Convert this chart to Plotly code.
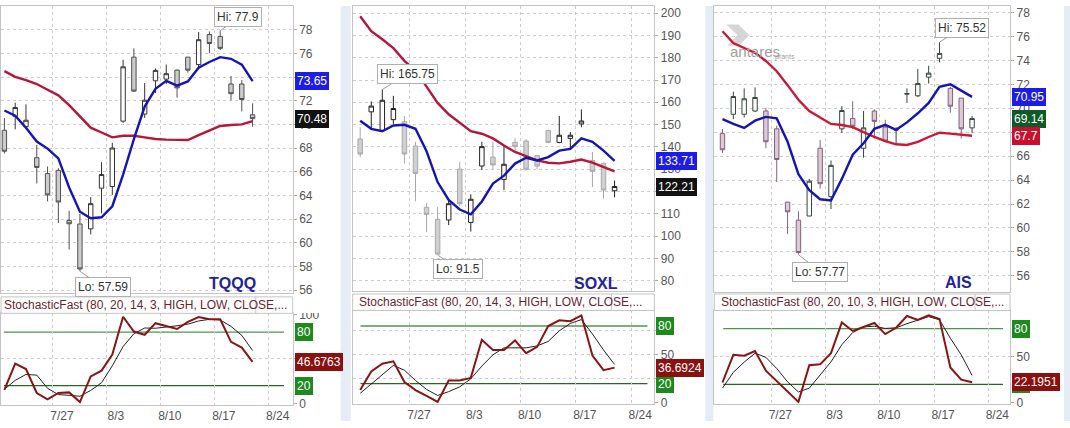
import plotly.graph_objects as go
import pandas as pd

# ---------------- data ----------------
dates = [d.strftime("%Y-%m-%d") for d in pd.bdate_range("2020-07-20", "2020-08-20")]
week_ticks = ["2020-07-27", "2020-08-03", "2020-08-10", "2020-08-17", "2020-08-24"]
week_labels = ["7/27", "8/3", "8/10", "8/17", "8/24"]

tqqq_open = [69.5, 70.68, 69.8, 67.18, 65.84, 66.11, 61.88, 61.58, 61.17, 64.61, 64.75, 70.27,
             75.68, 70.87, 73.68, 73.82, 74.58, 75.68, 75.05, 77.59, 77.43, 73.41, 73.41, 70.81]
tqqq_high = [70.54, 71.83, 71.69, 68.27, 66.44, 66.3, 62.7, 62.43, 63.85, 66.8, 68.44, 75.46,
             76.42, 73.49, 74.72, 75.05, 74.64, 75.68, 77.8, 77.85, 77.9, 74.09, 73.74, 71.77]
tqqq_low = [67.54, 69.58, 69.72, 65.0, 63.49, 61.66, 59.42, 57.59, 60.7, 62.48, 64.04, 70.13,
            72.73, 70.54, 72.64, 73.41, 72.26, 74.37, 74.64, 76.0, 76.28, 72.04, 71.09, 69.8]
tqqq_close = [67.73, 71.42, 70.35, 66.36, 64.04, 63.44, 61.6, 57.78, 63.3, 65.76, 68.0, 74.86,
              72.81, 72.04, 74.56, 74.28, 73.08, 74.58, 77.15, 76.83, 76.42, 72.59, 72.1, 70.48]
tqqq_ma_fast = [71.17, 70.73, 69.72, 68.55, 67.95, 67.13, 64.67, 62.62, 62.07, 62.15, 63.08, 65.76,
                68.76, 71.5, 73.0, 73.68, 73.27, 73.63, 74.78, 75.27, 75.68, 75.54, 75.05, 73.65]
tqqq_ma_slow = [74.5, 74.01, 73.74, 73.41, 72.92, 72.45, 71.63, 70.68, 69.72, 69.31, 68.9, 69.04,
                69.04, 68.9, 68.76, 68.71, 68.68, 68.68, 69.09, 69.5, 69.86, 69.94, 70.0, 70.27]
tqqq_stoch_k = [15.2, 44.8, 38.7, 11.8, 4.6, 11.8, 12.5, 1.7, 30.4, 36.9, 54.9, 97.3,
                80.7, 77.1, 90.1, 87.2, 83.6, 91.5, 96.9, 94.4, 94.4, 69.2, 62.8, 46.6763]
tqqq_stoch_d = [16, 26, 32.6, 31.9, 17.1, 10, 9.2, 8.2, 14.7, 23.3, 42.3, 63.9,
                78.3, 84.7, 84.4, 85.4, 87.2, 89.0, 92.6, 94.4, 93.7, 86.5, 76.4, 59.5]

soxl_open = [143.5, 155.7, 147.4, 152.2, 151.3, 140.4, 112.9, 107.5, 107.2, 130.0, 106.1, 131.4,
             135.4, 125.4, 142.0, 142.6, 136.1, 147.4, 142.0, 143.8, 150.3, 133.9, 132.6, 120.3]
soxl_high = [148.8, 160.4, 165.75, 162.9, 153.9, 142.3, 114.8, 113.0, 116.5, 133.3, 118.7, 142.3,
             142.3, 140.9, 143.8, 143.5, 136.2, 147.7, 153.9, 146.7, 156.8, 137.7, 132.9, 124.9]
soxl_low = [135.4, 148.1, 147.0, 150.3, 132.5, 115.5, 101.7, 91.5, 104.9, 113.3, 102.0, 129.6,
            130.0, 120.6, 137.2, 129.3, 130.0, 141.6, 141.6, 139.4, 148.8, 122.0, 116.7, 117.4]
soxl_close = [136.8, 158.3, 160.9, 157.2, 136.8, 128.1, 109.7, 91.9, 114.5, 114.5, 116.5, 140.1,
              131.9, 132.2, 140.1, 130.0, 131.4, 142.0, 145.2, 145.2, 151.6, 129.0, 120.6, 122.21]
soxl_ma_fast = [151.7, 148.1, 147.0, 149.6, 149.9, 148.1, 138.0, 124.2, 116.2, 111.9, 109.7, 115.5,
                123.5, 127.1, 132.5, 135.1, 133.9, 135.4, 138.3, 139.1, 143.8, 142.3, 138.3, 133.71]
soxl_ma_slow = [198.6, 191.9, 188.3, 184.3, 178.6, 174.2, 167.0, 159.7, 154.6, 151.0, 147.0, 145.9,
                143.8, 140.6, 137.7, 135.8, 133.9, 132.9, 132.6, 133.3, 134.3, 132.9, 131.0, 129.0]
soxl_stoch_k = [13.3, 32.7, 40.7, 43.3, 21.7, 13.3, 7.3, 1.0, 23.3, 23.3, 26.0, 65.7,
                55.0, 55.0, 65.0, 51.7, 58.3, 80.0, 86.0, 85.0, 91.0, 49.3, 34.0, 36.6924]
soxl_stoch_d = [10, 20, 30, 39, 34, 23.3, 14, 7.7, 11.7, 16.7, 25, 38.3,
                50, 57.3, 57.3, 57.3, 59.3, 64, 75, 82.7, 86.7, 71.7, 55, 40]

ais_open = [67.88, 69.5, 69.5, 69.77, 69.77, 68.28, 62.16, 60.65, 61.0, 66.66, 62.62, 68.28,
            69.15, 66.66, 69.77, 68.42, 68.18, 71.18, 71.04, 72.6, 74.17, 71.66, 70.85, 68.36]
ais_high = [68.28, 71.39, 71.66, 71.74, 70.04, 68.55, 62.16, 61.4, 64.1, 67.34, 65.64, 70.18,
            70.58, 69.77, 69.9, 69.04, 68.42, 71.66, 73.28, 73.55, 75.52, 71.8, 70.85, 69.36]
ais_low = [66.26, 69.09, 69.23, 69.69, 66.66, 63.83, 59.51, 57.77, 61.0, 63.29, 61.58, 67.93,
           68.28, 65.86, 67.47, 67.2, 67.07, 70.44, 70.93, 72.06, 73.82, 69.63, 67.47, 67.93]
ais_close = [66.53, 70.98, 70.79, 70.9, 67.2, 65.72, 61.35, 57.95, 63.91, 63.7, 65.23, 69.81,
             68.5, 68.36, 68.9, 67.26, 68.22, 71.22, 72.06, 72.93, 74.58, 70.17, 68.28, 69.14]
ais_ma_fast = [69.09, 68.69, 68.36, 68.96, 69.28, 69.15, 67.2, 64.5, 63.16, 62.4, 62.29, 64.1,
               66.12, 67.07, 68.28, 68.61, 68.2, 68.82, 69.58, 70.44, 71.79, 72.0, 71.47, 70.95]
ais_ma_slow = [76.43, 75.44, 75.03, 74.63, 73.95, 73.09, 71.93, 70.71, 69.77, 69.23, 68.69, 68.6,
               68.42, 68.01, 67.6, 67.26, 66.99, 66.93, 67.2, 67.6, 67.96, 67.88, 67.8, 67.7]
ais_stoch_k = [22, 51.9, 50.9, 56, 34.7, 23.4, 13.1, 1.1, 40.6, 41.6, 53.6, 86.8,
               77.6, 82, 86.2, 74.2, 81, 93.7, 89.6, 94.4, 90.6, 38.2, 25.1, 22.1951]
ais_stoch_d = [15.9, 33, 44, 53.6, 49.1, 37.1, 22.7, 11.8, 15.9, 29.6, 44.3, 62.8,
               75.9, 82, 82.7, 80.3, 81, 85.5, 89.6, 93, 89.6, 69.7, 51.9, 29.6]

tickers = ["TQQQ", "SOXL", "AIS"]
stoch_titles = ["StochasticFast (80, 20, 14, 3, HIGH, LOW, CLOSE,...",
                "StochasticFast (80, 20, 14, 3, HIGH, LOW, CLOSE,...",
                "StochasticFast (80, 20, 10, 3, HIGH, LOW, CLOSE,..."]
stoch_levels = [80, 20]

# ---------------- layout helpers ----------------
W, H = 1070, 428
FONT = "Liberation Sans, Arial, sans-serif"
def fx(p): return p / W
def fy(p): return 1 - p / H

calendar = [d.strftime("%Y-%m-%d") for d in pd.bdate_range(dates[0], week_ticks[-1])]
tick_pos = [calendar.index(d) - 0.5 for d in week_ticks]
xs = list(range(len(dates)))

series = [
    dict(o=tqqq_open, h=tqqq_high, l=tqqq_low, c=tqqq_close, fast=tqqq_ma_fast, slow=tqqq_ma_slow,
         k=tqqq_stoch_k, d=tqqq_stoch_d),
    dict(o=soxl_open, h=soxl_high, l=soxl_low, c=soxl_close, fast=soxl_ma_fast, slow=soxl_ma_slow,
         k=soxl_stoch_k, d=soxl_stoch_d),
    dict(o=ais_open, h=ais_high, l=ais_low, c=ais_close, fast=ais_ma_fast, slow=ais_ma_slow,
         k=ais_stoch_k, d=ais_stoch_d),
]

geo = [
    dict(x0=0, x1=292, main=(0, 296), hdr=(300, 317), stoch=(317, 411), div=255, txt=1,
         xr=[-0.315, 26.72], yr=[55.75, 80.0], sr=[-1.1, 101.1],
         yt=list(range(56, 80, 2)), st=[0, 50, 100], lab=(232, 286),
         hi=(18, -14), lo=(23, 16), lines=(0.01, 0.97),
         up=dict(line="#333333", fill="#ffffff"), dn=dict(line="#505050", fill="#cccccc"),
         slow_col="#b5163a", badges_main=[("fast", "#1c1ce6"), ("c", "#111111")]),
    dict(x0=352, x1=654, main=(0, 294), hdr=(297, 314), stoch=(314, 410), div=611, txt=356,
         xr=[-0.68, 26.6], yr=[75.3, 203.2], sr=[-0.7, 96.2],
         yt=list(range(80, 201, 10)), st=[0, 25, 50, 75], lab=(596, 286),
         hi=(25, -15), lo=(20, 14), lines=(0.026, 0.977),
         up=dict(line="#222222", fill="#ffffff"), dn=dict(line="#a8a8a8", fill="#d0d0d0"),
         slow_col="#b5163a", badges_main=[("fast", "#1c1ce6"), ("c", "#111111")]),
    dict(x0=714, x1=1010, main=(0, 295), hdr=(297, 314), stoch=(314, 410), div=975, txt=719,
         xr=[-0.75, 26.5], yr=[54.65, 78.54], sr=[-0.7, 99.7],
         yt=list(range(56, 80, 2)), st=[0, 50, 100], lab=(958, 285),
         hi=(22, -14), lo=(22, 17), lines=(0.03, 0.976),
         up=dict(line="#35473a", fill="#ffffff"), dn=dict(line="#86607a", fill="#dccbd7"),
         slow_col="#cc1838", badges_main=[("fast", "#1c1ce6"), ("c", "#0d5a28"), ("slow", "#c8102e")]),
]

fig = go.Figure()
layout = dict(width=W, height=H, margin=dict(l=0, r=0, t=0, b=0),
              paper_bgcolor="white", plot_bgcolor="rgba(0,0,0,0)", showlegend=False,
              boxgap=0.42, font=dict(family=FONT, size=12, color="#555555"),
              hovermode=False)
shapes, annots = [], []

GRID = "#cccccc"
BORDER = "#c4c4c4"

def ax_suffix(i):
    return "" if i == 1 else str(i)

for p, (s, g) in enumerate(zip(series, geo)):
    mi, si = ax_suffix(2 * p + 1), ax_suffix(2 * p + 2)
    mx, my = f"x{mi}", f"y{mi}"
    sx, sy = f"x{si}", f"y{si}"
    dom_x = [fx(g["x0"]), fx(g["x1"])]

    # main price panel
    fig.add_trace(go.Candlestick(
        x=xs, open=s["o"], high=s["h"], low=s["l"], close=s["c"], xaxis=mx, yaxis=my,
        whiskerwidth=0,
        increasing=dict(line=dict(color=g["up"]["line"], width=1), fillcolor=g["up"]["fill"]),
        decreasing=dict(line=dict(color=g["dn"]["line"], width=1), fillcolor=g["dn"]["fill"]),
    ))
    fig.add_trace(go.Scatter(x=xs, y=s["slow"], mode="lines", xaxis=mx, yaxis=my,
                             line=dict(color=g["slow_col"], width=2.4)))
    fig.add_trace(go.Scatter(x=xs, y=s["fast"], mode="lines", xaxis=mx, yaxis=my,
                             line=dict(color="#1515b4", width=2.4)))

    # stochastic panel
    fig.add_trace(go.Scatter(x=xs, y=s["d"], mode="lines", xaxis=sx, yaxis=sy,
                             line=dict(color="#222222", width=1)))
    fig.add_trace(go.Scatter(x=xs, y=s["k"], mode="lines", xaxis=sx, yaxis=sy,
                             line=dict(color="#8a1414", width=2)))

    common_x = dict(domain=dom_x, range=g["xr"], tickvals=tick_pos, showgrid=True,
                    gridcolor=GRID, griddash="dot", zeroline=False, showline=True,
                    linecolor=BORDER, mirror=True, ticks="", fixedrange=True,
                    rangeslider=dict(visible=False))
    layout[f"xaxis{mi}"] = dict(common_x, anchor=my, showticklabels=False)
    layout[f"xaxis{si}"] = dict(common_x, anchor=sy, ticktext=week_labels, showticklabels=True,
                                ticklabelshift=9, tickfont=dict(size=12, color="#555555"))
    common_y = dict(side="right", showgrid=True, gridcolor=GRID, griddash="dot", zeroline=False,
                    showline=True, linecolor=BORDER, mirror=True, ticks="outside", ticklen=3,
                    tickcolor="#aaaaaa", tickfont=dict(size=12, color="#555555"), fixedrange=True)
    layout[f"yaxis{mi}"] = dict(common_y, anchor=mx, domain=[fy(g["main"][1]), fy(g["main"][0])],
                                range=g["yr"], tickvals=g["yt"])
    layout[f"yaxis{si}"] = dict(common_y, anchor=sx, domain=[fy(g["stoch"][1]), fy(g["stoch"][0])],
                                range=g["sr"], tickvals=g["st"])

    # 80 / 20 reference lines
    for lev, col in zip(stoch_levels, ["#4f944f", "#2a662a"]):
        shapes.append(dict(type="line", xref=f"{sx} domain", yref=sy, x0=g["lines"][0],
                           x1=g["lines"][1], y0=lev, y1=lev, line=dict(color=col, width=1.3),
                           layer="below"))

    # header row of the stochastic panel
    h0, h1 = g["hdr"]
    shapes.append(dict(type="rect", xref="paper", yref="paper", x0=fx(g["x0"]), x1=fx(g["x1"]),
                       y0=fy(h1), y1=fy(h0), line=dict(color=BORDER, width=1),
                       fillcolor="white", layer="above"))
    shapes.append(dict(type="line", xref="paper", yref="paper", x0=fx(g["div"]), x1=fx(g["div"]),
                       y0=fy(h1), y1=fy(h0), line=dict(color=BORDER, width=1), layer="above"))
    shapes.append(dict(type="rect", xref="paper", yref="paper", x0=fx(g["x1"] + 1),
                       x1=fx(g["x1"] + 46), y0=fy(h1 - 0.5), y1=fy(g["main"][1] + 3),
                       line=dict(width=0), fillcolor="white", layer="above"))
    annots.append(dict(xref="paper", yref="paper", x=fx(g["txt"]), y=fy((h0 + h1) / 2),
                       xanchor="left", yanchor="middle", showarrow=False, text=stoch_titles[p],
                       font=dict(size=12, color="#6b1f30")))

    # ticker label
    annots.append(dict(xref="paper", yref="paper", x=fx(g["lab"][0]), y=fy(g["lab"][1]),
                       xanchor="center", yanchor="middle", showarrow=False,
                       text=f"<b>{tickers[p]}</b>", font=dict(size=16, color="#23239c")))

    # Hi / Lo callouts
    hi_i = max(xs, key=lambda i: s["h"][i])
    lo_i = min(xs, key=lambda i: s["l"][i])
    for idx, val, prefix, off in [(hi_i, s["h"][hi_i], "Hi", g["hi"]), (lo_i, s["l"][lo_i], "Lo", g["lo"])]:
        annots.append(dict(xref=mx, yref=my, x=idx, y=val, text=f"{prefix}: {val:g}",
                           showarrow=True, arrowhead=0, arrowwidth=1, arrowcolor="#999999",
                           ax=off[0], ay=off[1], bgcolor="white", bordercolor="#b0b0b0",
                           borderwidth=1, borderpad=2, font=dict(size=12, color="#333333")))

    # value badges on the price axis
    for key, col in g["badges_main"]:
        val = s[key][-1]
        annots.append(dict(xref=f"{mx} domain", yref=my, x=1, y=val, xanchor="left",
                           yanchor="middle", xshift=2, showarrow=False, text=f"{val:g}",
                           bgcolor=col, bordercolor=col, borderpad=1,
                           font=dict(size=12, color="white")))
    # badges on the stochastic axis (last value drawn on top)
    for val, col in [(stoch_levels[0], "#1e8a1e"), (stoch_levels[1], "#1e8a1e"), (s["k"][-1], "#8b1010")]:
        annots.append(dict(xref=f"{sx} domain", yref=sy, x=1, y=val, xanchor="left",
                           yanchor="middle", xshift=2, showarrow=False, text=f"{val:g}",
                           bgcolor=col, bordercolor=col, borderpad=1,
                           font=dict(size=12, color="white")))

# light blue separators between the panels
for a, b in [(340, 350), (705, 713), (1064, 1070)]:
    shapes.append(dict(type="rect", xref="paper", yref="paper", x0=fx(a), x1=fx(b), y0=0, y1=1,
                       line=dict(width=0), fillcolor="#e4ecf5", layer="below"))

# antares watermark
logo = "M {0},{1} L {2},{1} L {3},{4} L {5},{6} L {7},{6} L {8},{4} Z".format(
    fx(726), fy(19), fx(738), fx(749), fy(30), fx(739), fy(41), fx(727), fx(737))
shapes.append(dict(type="path", xref="paper", yref="paper", path=logo,
                   fillcolor="#d6d6d6", line=dict(width=0), layer="below"))
annots.append(dict(xref="paper", yref="paper", x=fx(782), y=fy(36), showarrow=False,
                   text="antares", font=dict(size=15, color="#a0a0a0")))
annots.append(dict(xref="paper", yref="paper", x=fx(797), y=fy(46), showarrow=False,
                   text="prants", font=dict(size=7, color="#a0a0a0")))

layout["shapes"] = shapes
layout["annotations"] = annots
fig.update_layout(**layout)

fig.write_html("out.html", config={"displayModeBar": False, "responsive": False},
               post_script="document.documentElement.style.margin='0';"
                           "document.body.style.margin='0';"
                           "document.documentElement.style.overflow='hidden';"
                           "document.body.style.overflow='hidden';")
